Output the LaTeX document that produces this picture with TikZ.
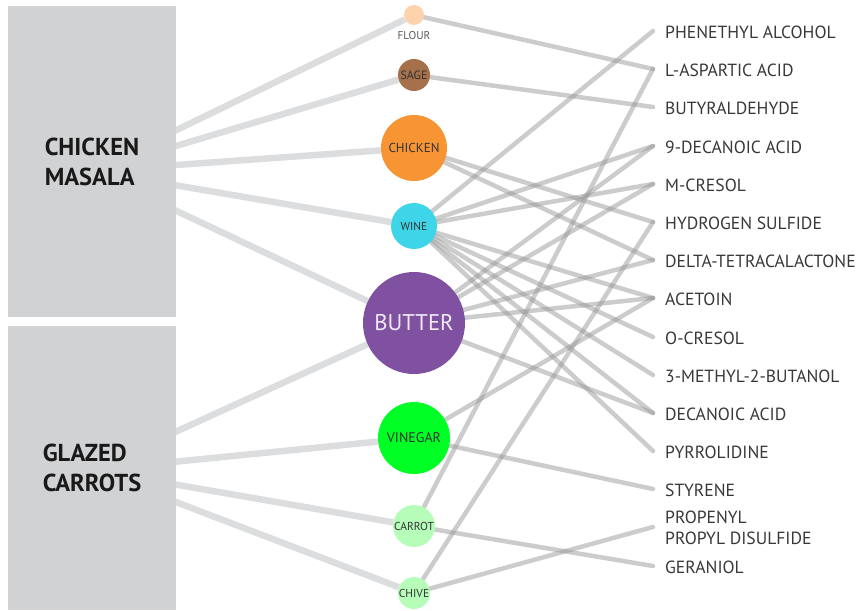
\documentclass[tikz,border=0pt]{standalone}
\usepackage{fontspec}
\setmainfont{PT Sans}
\usetikzlibrary{backgrounds}
\definecolor{dishgray}{HTML}{D1D2D4}
\definecolor{dishline}{HTML}{DCDDDF}
\definecolor{linkgray}{HTML}{999999}
\definecolor{flourc}{HTML}{FCD3AD}
\definecolor{sagec}{HTML}{A5704A}
\definecolor{chickenc}{HTML}{F79433}
\definecolor{winec}{HTML}{3FD5E8}
\definecolor{butterc}{HTML}{7F51A0}
\definecolor{vinegarc}{HTML}{00FF25}
\definecolor{herbc}{HTML}{B5FDB9}
\begin{document}
\begin{tikzpicture}[x=1pt,y=-1pt]
        \tikzset{
        dish box/.style={fill=dishgray,minimum width=168pt,inner sep=0,align=left,
          font=\bfseries\fontsize{24.5}{30}\selectfont,text=black!90},
        ingr node/.style={circle,minimum size=#1,inner sep=0,text=black!80,
          font=\fontsize{11.5}{13}\selectfont},
        cmp node/.style={anchor=west,inner sep=0,align=left,text=black!78,
          font=\fontsize{17.6}{20.5}\selectfont},
        dish edge/.style={draw=dishline,line width=6.5pt},
        cmp edge/.style={draw=linkgray,line width=4.5pt,line cap=round,opacity=0.5}
        }
        \useasboundingbox (0,0) rectangle (866,610);

        % dishes
        \node[dish box,minimum height=311pt] (masala) at (92,161.5) {CHICKEN\\MASALA};
        \node[dish box,minimum height=284pt] (glazed) at (92,468) {GLAZED\\CARROTS};
        \coordinate (masala hub) at (92,171);
        \coordinate (glazed hub) at (92,470);

        % ingredients
        \node[ingr node=20pt,fill=flourc] (flour) at (414,15) {};
        \node[inner sep=0,text=black!65,font=\fontsize{11.3}{13}\selectfont] (flour label) at (414,36) {FLOUR};
        \node[ingr node=32pt,fill=sagec,font=\fontsize{12}{13}\selectfont] (sage) at (414,75) {SAGE};
        \node[ingr node=66pt,fill=chickenc,font=\fontsize{13}{15}\selectfont] (chicken) at (414,148) {CHICKEN};
        \node[ingr node=46pt,fill=winec] (wine) at (414,226) {WINE};
        \node[ingr node=102pt,fill=butterc,text=white!88!butterc,font=\fontsize{22.7}{26}\selectfont] (butter) at (414,323) {BUTTER};
        \node[ingr node=72pt,fill=vinegarc,font=\fontsize{14}{16}\selectfont] (vinegar) at (414,438) {VINEGAR};
        \node[ingr node=42pt,fill=herbc] (carrot) at (414,526) {CARROT};
        \node[ingr node=32pt,fill=herbc] (chive) at (414,593) {CHIVE};

        % compounds
        \coordinate (phen) at (653,31);
        \coordinate (lasp) at (653,69);
        \coordinate (butyr) at (653,107);
        \coordinate (deca9) at (653,146);
        \coordinate (mcres) at (653,184);
        \coordinate (hydro) at (653,222);
        \coordinate (delta) at (653,260);
        \coordinate (acet) at (653,298);
        \coordinate (ocres) at (653,337);
        \coordinate (methyl) at (653,375);
        \coordinate (decan) at (653,413);
        \coordinate (pyrr) at (653,451);
        \coordinate (styr) at (653,489);
        \coordinate (prop) at (653,527);
        \coordinate (geran) at (653,566);
        \node[cmp node] (phen label) at (665,32) {PHENETHYL ALCOHOL};
        \node[cmp node] (lasp label) at (665,70) {L-ASPARTIC ACID};
        \node[cmp node] (butyr label) at (665,108) {BUTYRALDEHYDE};
        \node[cmp node] (deca9 label) at (665,147) {9-DECANOIC ACID};
        \node[cmp node] (mcres label) at (665,185) {M-CRESOL};
        \node[cmp node] (hydro label) at (665,223) {HYDROGEN SULFIDE};
        \node[cmp node] (delta label) at (665,261) {DELTA-TETRACALACTONE};
        \node[cmp node] (acet label) at (665,299) {ACETOIN};
        \node[cmp node] (ocres label) at (665,338) {O-CRESOL};
        \node[cmp node] (methyl label) at (665,376) {3-METHYL-2-BUTANOL};
        \node[cmp node] (decan label) at (665,414) {DECANOIC ACID};
        \node[cmp node] (pyrr label) at (665,452) {PYRROLIDINE};
        \node[cmp node] (styr label) at (665,490) {STYRENE};
        \node[cmp node] (prop label) at (665,528) {PROPENYL\\PROPYL DISULFIDE};
        \node[cmp node] (geran label) at (665,567) {GERANIOL};

        \begin{pgfonlayer}{background}
        \path[dish edge]
        (masala hub) edge (flour)
        (masala hub) edge (sage)
        (masala hub) edge (chicken)
        (masala hub) edge (wine)
        (masala hub) edge (butter)
        (glazed hub) edge (butter)
        (glazed hub) edge (vinegar)
        (glazed hub) edge (carrot)
        (glazed hub) edge (chive)
        ;
        \path[cmp edge]
        (flour) edge (lasp)
        (sage) edge (butyr)
        (chicken) edge (hydro)
        (chicken) edge (delta)
        (wine) edge (phen)
        (wine) edge (deca9)
        (wine) edge (mcres)
        (wine) edge (acet)
        (wine) edge (ocres)
        (wine) edge (methyl)
        (wine) edge (decan)
        (wine) edge (pyrr)
        (butter) edge (deca9)
        (butter) edge (mcres)
        (butter) edge (delta)
        (butter) edge (acet)
        (butter) edge (decan)
        (vinegar) edge (acet)
        (vinegar) edge (styr)
        (carrot) edge (lasp)
        (carrot) edge (geran)
        (chive) edge (hydro)
        (chive) edge (prop)
        ;
        \end{pgfonlayer}
    \end{tikzpicture}
\end{document}
